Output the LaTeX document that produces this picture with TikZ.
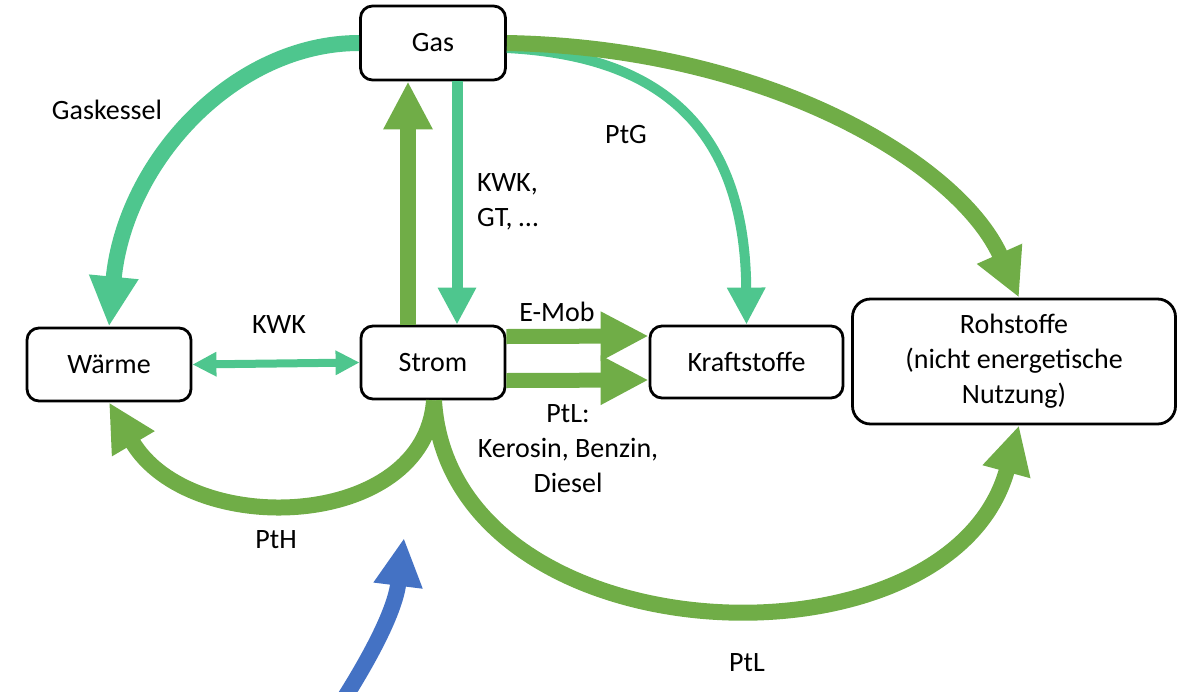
\documentclass[tikz,border=0pt]{standalone}
\usepackage{fontspec}
\setmainfont{Carlito}
\usetikzlibrary{arrows.meta}
\definecolor{cgreen}{HTML}{70AD47}
\definecolor{cteal}{HTML}{4EC68E}
\definecolor{cblue}{HTML}{4472C4}
\begin{document}
\begin{tikzpicture}[x=1pt,y=-1pt,
  box/.style={draw, line width=2.8pt, rounded corners=12pt, inner sep=0pt, align=center, fill=white, font=\fontsize{28}{35}\selectfont},
  lab/.style={inner sep=0pt, align=center, font=\fontsize{28}{35}\selectfont},
  gflow/.style={draw=cgreen, line width=16pt, -{Triangle[length=48pt,width=46pt]}},
  tflow/.style={draw=cteal, line width=16pt, -{Triangle[length=50pt,width=46pt]}},
  tthin/.style={draw=cteal, line width=10pt, -{Triangle[length=37pt,width=36pt]}},
  bflow/.style={draw=cblue, line width=16pt, -{Triangle[length=48pt,width=46pt]}}
]
\useasboundingbox (0,0) rectangle (1178,691);
\clip (0,0) rectangle (1178,691);

% nodes
\node[box, minimum width=145pt, minimum height=74pt] (gas) at (433,43) {Gas};
\node[box, minimum width=164pt, minimum height=73pt] (waerme) at (109,364.5) {Wärme};
\node[box, minimum width=144pt, minimum height=73pt] (strom) at (433,362.5) {Strom};
\node[box, minimum width=193pt, minimum height=72pt] (kraft) at (746.5,362) {Kraftstoffe};
\node[box, minimum width=323pt, minimum height=125pt, rounded corners=18pt] (roh) at (1014,361.5) {Rohstoffe\\(nicht energetische\\Nutzung)};

% labels
\node[lab] (lgask) at (107,110) {Gaskessel};
\node[lab, anchor=west, align=left] (lkwkgt) at (477,202) {KWK,\\GT, …};
\node[lab] (lptg) at (626,135) {PtG};
\node[lab] (lkwk) at (279,325) {KWK};
\node[lab] (lemob) at (557,312) {E-Mob};
\node[lab] (lptl1) at (568,449) {PtL:\\Kerosin, Benzin,\\Diesel};
\node[lab] (lpth) at (276,540) {PtH};
\node[lab] (lptl2) at (747,663) {PtL};

% connectors
\draw[tflow] (gas.west) .. controls (235,43) and (125,160) .. (waerme.north);
\draw[tthin, line width=11pt] ([xshift=24pt]gas.south) -- ([xshift=24pt]strom.north);
\draw[gflow] ([xshift=-25pt]strom.north) -- ([xshift=-25pt]gas.south);
\draw[tthin] ([yshift=-5pt]gas.east) .. controls (640,55) and (745,110) .. (kraft.north);
\draw[gflow] (gas.east) .. controls (770,48) and (960,165) .. ([xshift=5pt]roh.north);
\draw[gflow, line width=15pt] ([yshift=26pt]strom.east) -- ([yshift=26pt]kraft.west);
\draw[gflow, line width=15pt] ([yshift=-18pt]strom.east) -- ([yshift=-18pt]kraft.west);
\draw[draw=cteal, line width=8pt, {Triangle[length=24pt,width=23pt]}-{Triangle[length=24pt,width=23pt]}] (waerme.east) -- (strom.west);
\draw[gflow] ([xshift=1pt]strom.south) .. controls (425,530) and (190,540) .. (waerme.south);
\draw[gflow] ([xshift=1pt]strom.south) .. controls (450,660) and (950,680) .. ([xshift=5pt]roh.south);
\coordinate (bsrc) at (340,705);
\coordinate (btip) at (404,538);
\draw[bflow] (bsrc) .. controls (372,655) and (395,610) .. (btip);
\end{tikzpicture}
\end{document}
